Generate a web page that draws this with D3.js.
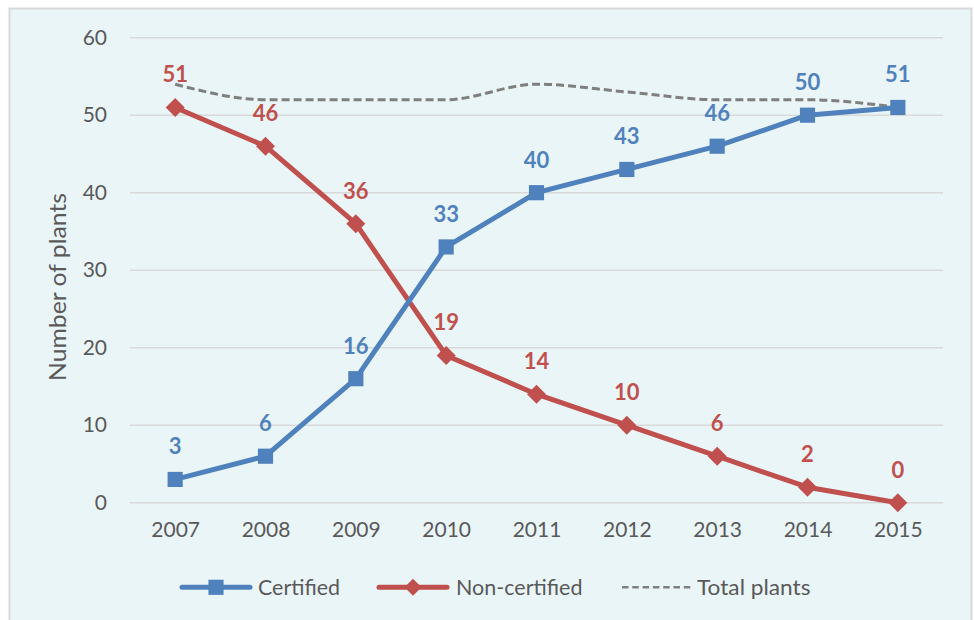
<!DOCTYPE html>
<html><head><meta charset="utf-8">
<script src="https://cdn.jsdelivr.net/npm/d3@7"></script>
<style>
html,body{margin:0;padding:0;background:#fff;}
svg{display:block;}
text{font-family:Lato,"Open Sans",sans-serif;}
</style></head>
<body>
<svg id="c" width="974" height="620"></svg>
<script>
const years = [2007, 2008, 2009, 2010, 2011, 2012, 2013, 2014, 2015];
const certified = [3, 6, 16, 33, 40, 43, 46, 50, 51];
const nonCertified = [51, 46, 36, 19, 14, 10, 6, 2, 0];
const totalPlants = [54, 52, 52, 52, 54, 53, 52, 52, 51];
const yTicks = [0, 10, 20, 30, 40, 50, 60];
const seriesNames = ["Certified", "Non-certified", "Total plants"];

const svg = d3.select("#c");
const blue = "#4F81BD", red = "#C0504D", gray = "#7F7F7F";
const font = "Lato, 'Open Sans', sans-serif";

svg.append("rect").attr("x", 9.5).attr("y", 8.5).attr("width", 962).attr("height", 620)
  .attr("fill", "#EAF5F8").attr("stroke", "#D9D9D9").attr("stroke-width", 2);

const x = d3.scalePoint().domain(years).range([130, 943]).padding(0.5);
const y = d3.scaleLinear().domain([0, 60]).range([502.7, 37.7]);

// gridlines
svg.append("g").selectAll("line").data(yTicks).join("line")
  .attr("x1", 130).attr("x2", 943)
  .attr("y1", d => y(d)).attr("y2", d => y(d))
  .attr("stroke", "#D9D9D9").attr("stroke-width", 1.5);

// y axis labels
const yAxis = svg.append("g").attr("transform", "translate(107,0)")
  .call(d3.axisLeft(y).tickValues(yTicks).tickSize(0).tickPadding(0));
yAxis.select(".domain").remove();
yAxis.selectAll("text").attr("font-size", 21).attr("fill", "#595959")
  .attr("font-family", font);

// x axis labels
const xAxis = svg.append("g").attr("transform", "translate(0,522)")
  .call(d3.axisBottom(x).tickSize(0).tickPadding(0));
xAxis.select(".domain").remove();
xAxis.selectAll("text").attr("font-size", 21).attr("fill", "#595959")
  .attr("font-family", font);

// y title
svg.append("text").attr("transform", "translate(66,287) rotate(-90)")
  .attr("text-anchor", "middle").attr("font-size", 23).attr("fill", "#595959")
  .attr("textLength", 188).attr("lengthAdjust", "spacingAndGlyphs")
  .text("Number of plants");

// total plants dashed
const lineTotal = d3.line().x((d, i) => x(years[i])).y(d => y(d)).curve(d3.curveMonotoneX);
svg.append("path").attr("d", lineTotal(totalPlants)).attr("fill", "none")
  .attr("stroke", gray).attr("stroke-width", 3).attr("stroke-dasharray", "8,4");

const line = d3.line().x((d, i) => x(years[i])).y(d => y(d));

// non-certified
svg.append("path").attr("d", line(nonCertified)).attr("fill", "none")
  .attr("stroke", red).attr("stroke-width", 5).attr("stroke-linejoin", "round");
// certified
svg.append("path").attr("d", line(certified)).attr("fill", "none")
  .attr("stroke", blue).attr("stroke-width", 5).attr("stroke-linejoin", "round");

const sq = d3.symbol().type(d3.symbolSquare).size(230);

svg.append("g").selectAll("path").data(nonCertified).join("path")
  .attr("d", "M0,-9.5L9.5,0L0,9.5L-9.5,0Z")
  .attr("transform", (d, i) => `translate(${x(years[i])},${y(d)})`)
  .attr("fill", red);
svg.append("g").selectAll("path").data(certified).join("path")
  .attr("d", sq)
  .attr("transform", (d, i) => `translate(${x(years[i])},${y(d)})`)
  .attr("fill", blue);

// data labels
svg.append("g").selectAll("text").data(nonCertified).join("text")
  .attr("x", (d, i) => x(years[i])).attr("y", d => y(d) - 25)
  .attr("text-anchor", "middle").attr("font-size", 22).attr("font-weight", "bold")
  .attr("fill", red).text(d => d);
svg.append("g").selectAll("text").data(certified).join("text")
  .attr("x", (d, i) => x(years[i])).attr("y", d => y(d) - 25)
  .attr("text-anchor", "middle").attr("font-size", 22).attr("font-weight", "bold")
  .attr("fill", blue).text(d => d);

// legend
const lg = svg.append("g");
const ly = 587.3, tb = 594.5;
lg.append("line").attr("x1", 182).attr("x2", 250).attr("y1", ly).attr("y2", ly)
  .attr("stroke", blue).attr("stroke-width", 5).attr("stroke-linecap", "round");
lg.append("path").attr("d", sq).attr("transform", `translate(216,${ly})`).attr("fill", blue);
lg.append("text").attr("x", 258).attr("y", tb).attr("font-size", 22).attr("fill", "#595959")
  .attr("textLength", 82).attr("lengthAdjust", "spacingAndGlyphs").text(seriesNames[0]);

lg.append("line").attr("x1", 379).attr("x2", 447).attr("y1", ly).attr("y2", ly)
  .attr("stroke", red).attr("stroke-width", 5).attr("stroke-linecap", "round");
lg.append("path").attr("d", "M0,-8.5L8.5,0L0,8.5L-8.5,0Z").attr("transform", `translate(413,${ly})`).attr("fill", red);
lg.append("text").attr("x", 456).attr("y", tb).attr("font-size", 22).attr("fill", "#595959")
  .attr("textLength", 126.5).attr("lengthAdjust", "spacingAndGlyphs").text(seriesNames[1]);

lg.append("line").attr("x1", 622).attr("x2", 690.5).attr("y1", ly).attr("y2", ly)
  .attr("stroke", gray).attr("stroke-width", 2.5).attr("stroke-dasharray", "6.5,3.8");
lg.append("text").attr("x", 697).attr("y", tb).attr("font-size", 22).attr("fill", "#595959")
  .attr("textLength", 113.5).attr("lengthAdjust", "spacingAndGlyphs").text(seriesNames[2]);
</script>
</body></html>
